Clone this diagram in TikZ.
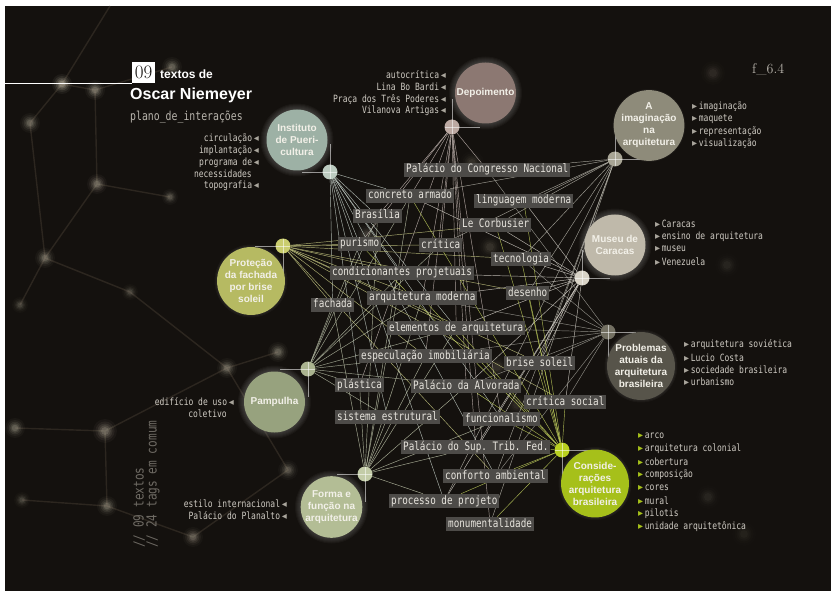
\documentclass[tikz,border=0pt]{standalone}
\usepackage{fontspec}
\setsansfont{Liberation Sans}
\newfontfamily\tagfont[FakeStretch=0.8]{DejaVu Sans Mono}
\newfontfamily\symfont{DejaVu Sans}
\usepackage{xcolor}
\definecolor{BgDark}{HTML}{14110E}
\definecolor{TagFill}{HTML}{4D4B48}
\definecolor{TagText}{HTML}{E8E5DE}
\definecolor{ListText}{HTML}{CFCBC3}
\definecolor{ListMark}{HTML}{A9A59C}
\definecolor{SubText}{HTML}{B8B4AC}
\definecolor{SideText}{HTML}{6E6A63}
\definecolor{Bokeh}{HTML}{D2C9B4}
\definecolor{BokehLine}{HTML}{4A4034}
\definecolor{BubText}{HTML}{F2F0E8}
\definecolor{DepColor}{HTML}{8C7872}
\definecolor{DepHub}{HTML}{BCA9A2}
\definecolor{InstColor}{HTML}{9DB1A5}
\definecolor{InstHub}{HTML}{BCCBC0}
\definecolor{ImagColor}{HTML}{8E8B7A}
\definecolor{ImagHub}{HTML}{A8A595}
\definecolor{MusColor}{HTML}{BFB9AA}
\definecolor{MusHub}{HTML}{D8D3C6}
\definecolor{ProbColor}{HTML}{57544A}
\definecolor{ProbHub}{HTML}{737062}
\definecolor{ProtColor}{HTML}{B6BA62}
\definecolor{ProtHub}{HTML}{CACD6E}
\definecolor{PampColor}{HTML}{97A27E}
\definecolor{PampHub}{HTML}{AAB38F}
\definecolor{FormColor}{HTML}{B3BD95}
\definecolor{FormHub}{HTML}{C3CCA8}
\definecolor{ConsColor}{HTML}{A6C01A}
\definecolor{ConsHub}{HTML}{B9D020}

\pgfdeclarelayer{bg}
\pgfdeclarelayer{back}
\pgfsetlayers{bg,back,main}

\begin{document}
\frenchspacing
\begin{tikzpicture}[x=1pt, y=-1pt,
  tag/.style={fill=TagFill, text=TagText, font={\tagfont\fontsize{11.6}{12}\selectfont}, inner xsep=2pt, inner ysep=1pt, text height=9pt, text depth=3pt, anchor=west},
  lista/.style={text=ListText, font={\tagfont\fontsize{10}{12}\selectfont}, inner sep=0pt},
  hub/.style={circle, minimum size=15pt, inner sep=0pt},
  arm/.style={line width=0.6pt, draw=white, opacity=0.55},
  bubble/.style={circle, minimum size=61pt, inner sep=0pt, text=BubText, font={\sffamily\bfseries\fontsize{10}{12}\selectfont}, align=center},
  spoke/.style={line width=0.45pt, opacity=0.8}]

	% Page and blurred background
	\useasboundingbox (0,0) rectangle (831,591);
	\begin{pgfonlayer}{bg}
		\fill[white] (0,0) rectangle (831,591);
		\fill[BgDark] (5,6) rectangle (831,591);
		\draw[BokehLine, line width=1.4pt, opacity=0.45] (110,6) -- (62,84) -- (30,123) -- (45,258) -- (130,292) -- (227,368) -- (278,352);
		\draw[BokehLine, line width=1.4pt, opacity=0.45] (62,84) -- (95,90) -- (172,67) (95,90) -- (97,184) -- (170,197) (97,184) -- (45,258) -- (20,305);
		\draw[BokehLine, line width=1.4pt, opacity=0.45] (15,428) -- (105,431) -- (107,506) -- (193,537) -- (288,470) -- (227,368) -- (105,431) (22,500) -- (107,506);
		\foreach \x/\y/\r/\o in {62/84/5/0.8, 95/90/5/0.6, 30/123/5/0.5, 172/67/5/0.5, 97/184/5/0.55, 170/197/4/0.4, 45/258/5/0.5, 130/292/4/0.3, 20/305/4/0.3, 15/428/5/0.5, 105/431/6/0.55, 107/506/5/0.5, 22/500/4/0.3, 193/537/5/0.45, 227/368/5/0.5, 278/352/5/0.5, 288/470/5/0.4, 367/235/6/0.25, 472/163/6/0.2, 490/247/6/0.2, 497/367/6/0.2, 517/405/6/0.15, 713/73/6/0.15, 727/265/6/0.12, 708/497/6/0.12, 744/534/6/0.1} {
			\foreach \f/\p in {2.0/0.08, 1.6/0.12, 1.25/0.18, 0.95/0.25, 0.65/0.35} {
				\pgfmathsetmacro\oa{\p*\o}
				\pgfmathsetmacro\ra{\f*\r}
				\fill[Bokeh, opacity=\oa] (\x,\y) circle[radius=\ra pt];
			}
		}
	\end{pgfonlayer}

	% Title
	\node[fill=white, text=BgDark, minimum width=23pt, minimum height=21pt, inner sep=0pt, anchor=north west, font={\rmfamily\fontsize{19}{19}\selectfont}] (num) at (132,62) {\oldstylenums{09}};
	\coordinate (lstart) at (5,83.5);
	\draw[white, line width=1.6pt] (lstart) -- (num.west |- lstart);
	\node[anchor=base west, inner sep=0pt, text=white, font={\sffamily\bfseries\fontsize{12}{12}\selectfont}] (ttext) at (160,79) {textos de};
	\node[anchor=base west, inner sep=0pt, text=white, font={\sffamily\bfseries\fontsize{16}{16}\selectfont}] (tname) at (130,100) {Oscar Niemeyer};
	\node[anchor=base west, inner sep=0pt, text=SubText, font={\tagfont\fontsize{12.3}{12}\selectfont}] (tsub) at (130,121) {plano\_de\_interações};
	\node[anchor=base west, inner sep=0pt, text=SubText, font={\rmfamily\fontsize{14}{14}\selectfont}] (fig) at (752,74) {f\_6.4};
	\node[rotate=90, anchor=west, inner sep=0pt, text=SideText, font={\tagfont\fontsize{13.9}{14}\selectfont}] (side1) at (139,548) {// 09 textos};
	\node[rotate=90, anchor=west, inner sep=0pt, text=SideText, font={\tagfont\fontsize{13.9}{14}\selectfont}] (side2) at (153,548) {// 24 tags em comum};

	% Tags
	\node[tag] (pcn) at (404,170) {Palácio do Congresso Nacional};
	\node[tag] (conc) at (366,196) {concreto armado};
	\node[tag] (ling) at (474,201) {linguagem moderna};
	\node[tag] (bras) at (353,216) {Brasília};
	\node[tag] (corb) at (460,225) {Le Corbusier};
	\node[tag] (pur) at (338,244) {purismo};
	\node[tag] (crit) at (419,245) {crítica};
	\node[tag] (tec) at (491,259) {tecnologia};
	\node[tag] (cond) at (330,273) {condicionantes projetuais};
	\node[tag] (des) at (506,293) {desenho};
	\node[tag] (arqm) at (367,298) {arquitetura moderna};
	\node[tag] (fach) at (311,305) {fachada};
	\node[tag] (elem) at (387,328) {elementos de arquitetura};
	\node[tag] (esp) at (359,356) {especulação imobiliária};
	\node[tag] (brise) at (504,363) {brise soleil};
	\node[tag] (plast) at (335,385) {plástica};
	\node[tag] (alv) at (411,386) {Palácio da Alvorada};
	\node[tag] (crs) at (524,402) {crítica social};
	\node[tag] (sist) at (335,417) {sistema estrutural};
	\node[tag] (func) at (463,419) {funcionalismo};
	\node[tag] (stf) at (401,447) {Palácio do Sup. Trib. Fed.};
	\node[tag] (conf) at (443,476) {conforto ambiental};
	\node[tag] (proc) at (389,501) {processo de projeto};
	\node[tag] (monu) at (446,524) {monumentalidade};

	% Hubs
	\node[hub, fill=DepHub] (hdep) at (452,127) {};
	\node[hub, fill=InstHub] (hinst) at (330,172) {};
	\node[hub, fill=ImagHub] (himag) at (615,159) {};
	\node[hub, fill=MusHub] (hmus) at (582,278) {};
	\node[hub, fill=ProbHub] (hprob) at (608,332) {};
	\node[hub, fill=ProtHub] (hprot) at (283,246) {};
	\node[hub, fill=PampHub] (hpamp) at (308,369) {};
	\node[hub, fill=FormHub] (hform) at (365,474) {};
	\node[hub, fill=ConsHub] (hcons) at (562,450) {};
	\foreach \h/\sx/\sy in {hdep/1/-1, hinst/-1/-1, himag/1/-1, hmus/1/-1, hprob/1/1, hprot/-1/1, hpamp/-1/1, hform/-1/1, hcons/1/1} {
		\draw[arm] (\h.center) ++(-7*\sx,0) -- ++(35*\sx,0);
		\draw[arm] (\h.center) ++(0,-7*\sy) -- ++(0,35*\sy);
	}

	% Spokes
	\begin{pgfonlayer}{back}
		\foreach \t in {pcn,conc,bras,crit,arqm,elem,esp,alv,stf,monu,plast,func,pur}
			\draw[spoke, draw=DepHub!70!white] (hdep) -- (\t);
		\foreach \t in {conc,cond,fach,sist,plast,conf,elem,proc,func,pur,bras}
			\draw[spoke, draw=InstHub!70!white] (hinst) -- (\t);
		\foreach \t in {pur,corb,tec,cond,arqm,elem,fach,brise,crs,conf,esp,des,crit}
			\draw[spoke, draw=ProtHub!80!white] (hprot) -- (\t);
		\foreach \t in {pcn,ling,corb,tec,des,crit,proc,conf,brise,monu,conc}
			\draw[spoke, draw=ImagHub!70!white] (himag) -- (\t);
		\foreach \t in {cond,corb,tec,des,ling,conc,arqm,elem,brise,crs,func,stf,alv,proc}
			\draw[spoke, draw=MusHub!70!white] (hmus) -- (\t);
		\foreach \t in {elem,esp,crs,brise,arqm,des,tec,alv,conf,pcn}
			\draw[spoke, draw=ProbHub!60!white] (hprob) -- (\t);
		\foreach \t in {arqm,cond,fach,elem,esp,plast,alv,sist,conc,pur,bras,crit}
			\draw[spoke, draw=PampHub!70!white] (hpamp) -- (\t);
		\foreach \t in {sist,plast,func,stf,esp,alv,elem,arqm,fach,cond,conc,proc,bras}
			\draw[spoke, draw=FormHub!80!white] (hform) -- (\t);
		\foreach \t in {brise,crs,func,conf,proc,monu,stf,des,tec,ling,corb,elem,conc,arqm,alv,pur}
			\draw[spoke, draw=ConsHub!70!white] (hcons) -- (\t);
	\end{pgfonlayer}

	% Texts (bubbles)
	\node[bubble, fill=DepColor] (bdep) at (485.5,93) {Depoimento};
	\node[bubble, fill=InstColor] (binst) at (297,140) {Instituto\\de Pueri-\\cultura};
	\node[bubble, fill=ImagColor] (bimag) at (649,125.5) {A\\imaginação\\na\\arquitetura};
	\node[bubble, fill=MusColor] (bmus) at (615,245) {Museu de\\Caracas};
	\node[bubble, fill=ProbColor] (bprob) at (641,366) {Problemas\\atuais da\\arquitetura\\brasileira};
	\node[bubble, fill=ProtColor] (bprot) at (251,281) {Proteção\\da fachada\\por brise\\soleil};
	\node[bubble, fill=PampColor] (bpamp) at (274.5,402) {Pampulha};
	\node[bubble, fill=FormColor] (bform) at (331.5,507) {Forma e\\função na\\arquitetura};
	\node[bubble, fill=ConsColor] (bcons) at (595,483.5) {Conside-\\rações\\arquitetura\\brasileira};
	\begin{pgfonlayer}{back}
		\foreach \b in {bdep,binst,bimag,bmus,bprob,bprot,bpamp,bform,bcons}
			\foreach \k in {1,...,6} {
				\pgfmathsetmacro\rr{30.5+\k}
				\fill[white, opacity=0.03] (\b.center) circle[radius=\rr pt];
			}
	\end{pgfonlayer}

	% Own tags of each text
	\foreach \t [count=\i from 0] in {autocrítica, Lina Bo Bardi, Praça dos Três Poderes, Vilanova Artigas}
		\node[lista, anchor=east] (ldep\i) at (446,75+12*\i) {\t\,{\symfont\color{ListMark}◂}};
	\foreach \y/\t [count=\i] in {139/circulação, 151/implantação, 163/programa de, 186/topografia}
		\node[lista, anchor=east] (linst\i) at (259,\y) {\t\,{\symfont\color{ListMark}◂}};
	\node[lista, anchor=east] (linst5) at (252,174) {necessidades};
	\node[lista, anchor=east] (lpamp1) at (234,402) {edifício de uso\,{\symfont\color{ListMark}◂}};
	\node[lista, anchor=east] (lpamp2) at (227,414) {coletivo};
	\node[lista, anchor=east] (lform1) at (287,504) {estilo internacional\,{\symfont\color{ListMark}◂}};
	\node[lista, anchor=east] (lform2) at (287,516) {Palácio do Planalto\,{\symfont\color{ListMark}◂}};
	\foreach \t [count=\i from 0] in {imaginação, maquete, representação, visualização}
		\node[lista, anchor=west] (limag\i) at (692,107+12.1*\i) {{\symfont\color{ListMark}▸}\,\t};
	\foreach \t [count=\i from 0] in {Caracas, ensino de arquitetura, museu, Venezuela}
		\node[lista, anchor=west] (lmus\i) at (655,224+12.6*\i) {{\symfont\color{ListMark}▸}\,\t};
	\foreach \t [count=\i from 0] in {arquitetura soviética, Lucio Costa, sociedade brasileira, urbanismo}
		\node[lista, anchor=west] (lprob\i) at (684,345+12.4*\i) {{\symfont\color{ListMark}▸}\,\t};
	\foreach \t [count=\i from 0] in {arco, arquitetura colonial, cobertura, composição, cores, mural, pilotis, unidade arquitetônica}
		\node[lista, anchor=west] (lcons\i) at (638,436+12.95*\i) {{\symfont\color{ConsColor}▸}\,\t};
\end{tikzpicture}
\end{document}
